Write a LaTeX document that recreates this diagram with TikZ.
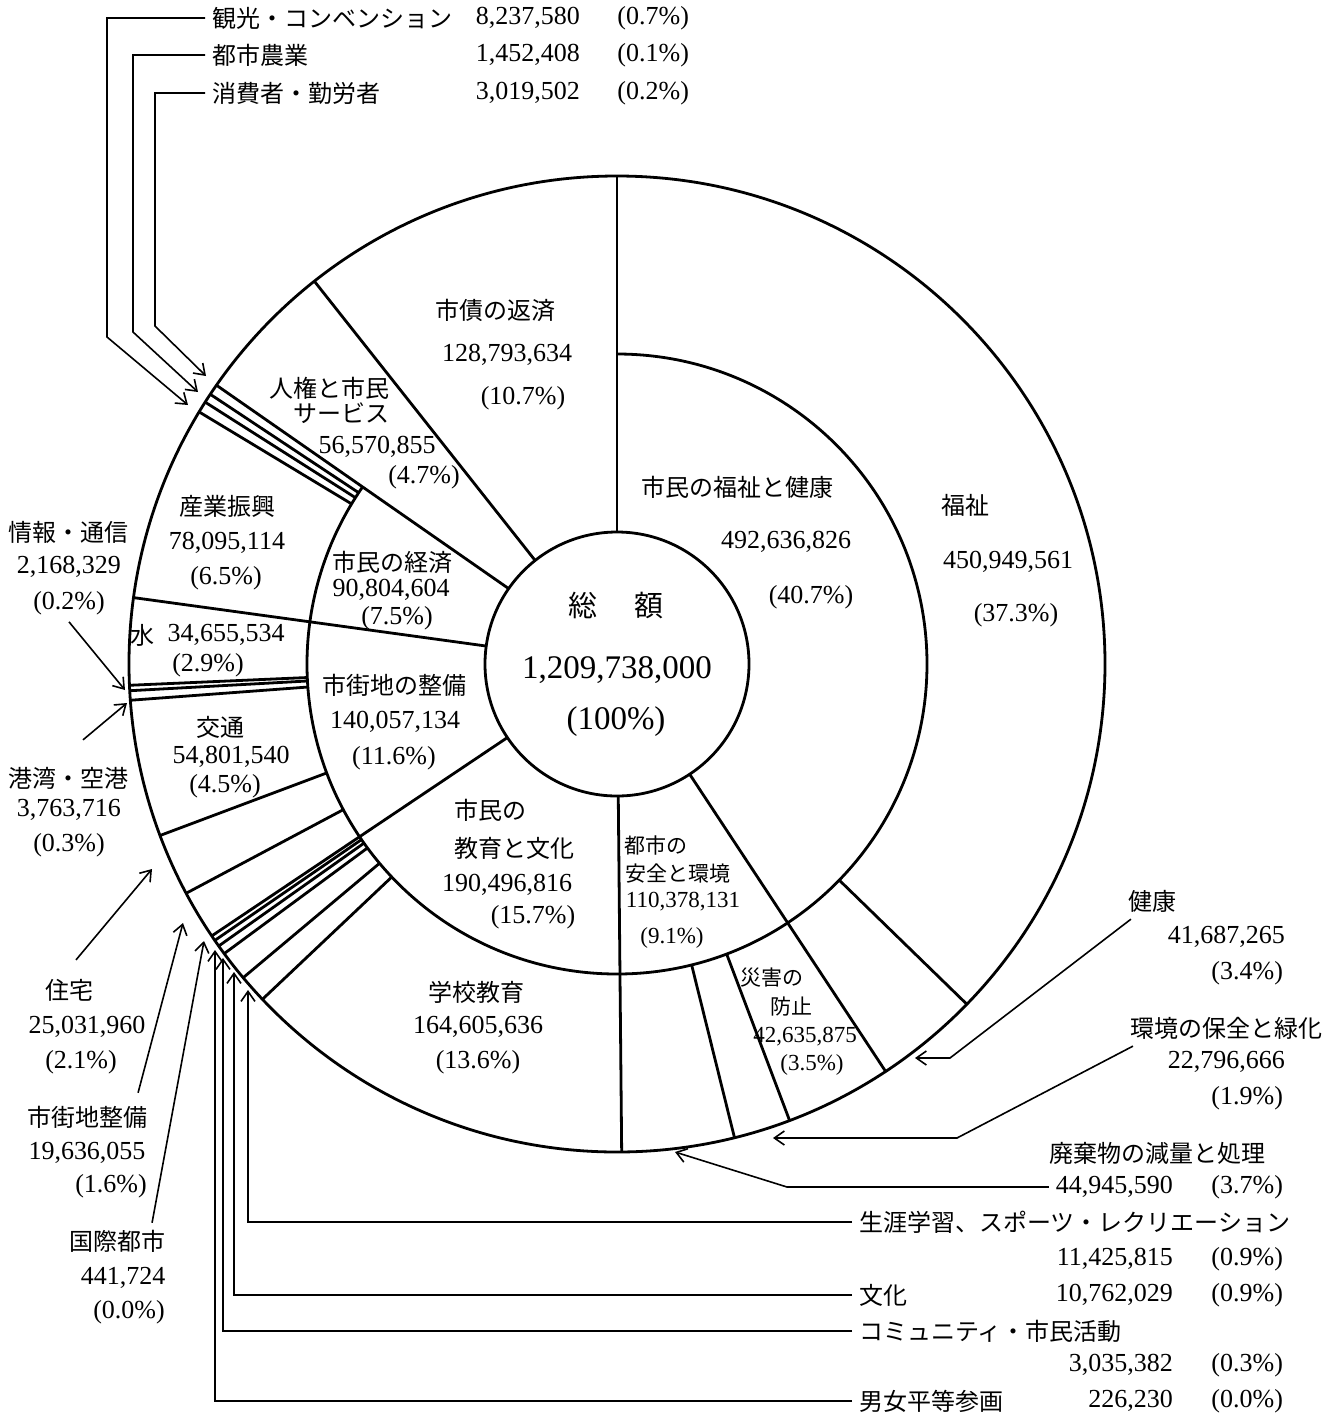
\documentclass[tikz,border=0pt]{standalone}
\usepackage{fontspec}
\setmainfont{Liberation Serif}
\newfontfamily\jpfont{Noto Sans CJK JP}
\usetikzlibrary{arrows.meta}

\begin{document}
\begin{tikzpicture}[x=0.5pt,y=-0.5pt,
  ring/.style={line width=1.4pt},
  conn/.style={line width=0.8pt,-{Straight Barb[length=5pt,width=7pt]}},
  jp/.style={font=\jpfont\fontsize{12}{14}\selectfont},
  jps/.style={font=\jpfont\fontsize{10.5}{12}\selectfont},
  num/.style={font=\fontsize{13}{15}\selectfont},
  nums/.style={font=\fontsize{11.5}{13}\selectfont}]
\useasboundingbox (0,0) rectangle (1332,1415);
\def\centre{(617,664)}

% inner and outer circles
\draw[ring] \centre circle[radius=132] \centre circle[radius=488];

\begin{scope}[shift={(617,664)}] % angles clockwise from the top
% middle circle, open over the last two parts
\draw[ring] (-90:310) arc[start angle=-90, end angle=214.84, radius=310];
\foreach \a in {0,146.6,179.45,236.14,277.82,304.84,321.67}
  \draw[ring] (\a-90:132) -- (\a-90:488);
\foreach \a in {134.2,159.29,166.07,226.6,230,233.6,234.7,235.5,241.98,249.43,265.74,266.86,267.5,301.1,302.45,303.55}
  \draw[ring] (\a-90:310) -- (\a-90:488);
\end{scope}

% total
\node[font=\jpfont\fontsize{14.5}{16}\selectfont] (total1) at (616,605) {総\hspace{1.3em}額};
\node[font=\fontsize{16.5}{18}\selectfont] (total2) at (617,670) {1,209,738,000};
\node[font=\fontsize{16.5}{18}\selectfont] (total3) at (616,722) {(100\%)};

% labels inside the rings
\foreach \n/\x/\y/\t in {saisai1/495/310/市債の返済, jinken1/329/388/人権と市民,
    jinken2/341/413/サービス, keizai1/392/562/市民の経済, seibi1/394/685/市街地の整備,
    kyoiku1/490/810/市民の, kyoiku2/514/848/教育と文化, fukushi1/737/487/市民の福祉と健康,
    fuku1/965/505/福祉, sangyo1/227/506/産業振興, mizu1/142/635/水, kotsu1/220/727/交通,
    gakko1/476/992/学校教育}
  \node[jp] (\n) at (\x,\y) {\t};
\foreach \n/\x/\y/\t in {saisai2/507/355/{128,793,634}, saisai3/523/398/(10.7\%),
    jinken3/377/447/{56,570,855}, jinken4/424/477/(4.7\%),
    keizai2/391/590/{90,804,604}, keizai3/397/618/(7.5\%),
    seibi2/395/722/{140,057,134}, seibi3/394/758/(11.6\%),
    kyoiku3/507/885/{190,496,816}, kyoiku4/533/917/(15.7\%),
    fukushi2/786/542/{492,636,826}, fukushi3/811/597/(40.7\%),
    fuku2/1008/562/{450,949,561}, fuku3/1016/615/(37.3\%),
    sangyo2/227/543/{78,095,114}, sangyo3/226/578/(6.5\%),
    mizu2/226/635/{34,655,534}, mizu3/208/665/(2.9\%),
    kotsu2/231/757/{54,801,540}, kotsu3/225/786/(4.5\%),
    gakko2/478/1027/{164,605,636}, gakko3/478/1062/(13.6\%)}
  \node[num] (\n) at (\x,\y) {\t};
\foreach \n/\x/\y/\t in {anzen1/656/845/都市の, anzen2/678/874/安全と環境,
    saigai1/772/978/災害の, saigai2/791/1007/防止}
  \node[jps] (\n) at (\x,\y) {\t};
\foreach \n/\x/\y/\t in {anzen3/683/902/{110,378,131}, anzen4/672/938/(9.1\%),
    saigai3/805/1037/{42,635,875}, saigai4/812/1065/(3.5\%)}
  \node[nums] (\n) at (\x,\y) {\t};

% labels at the top
\node[jp,anchor=west] (kanko1) at (205,18) {観光・コンベンション};
\node[num,anchor=east] (kanko2) at (587,18) {8,237,580};
\node[num,anchor=east] (kanko3) at (696,18) {(0.7\%)};
\node[jp,anchor=west] (nogyo1) at (205,55) {都市農業};
\node[num,anchor=east] (nogyo2) at (587,55) {1,452,408};
\node[num,anchor=east] (nogyo3) at (696,55) {(0.1\%)};
\node[jp,anchor=west] (shohi1) at (205,93) {消費者・勤労者};
\node[num,anchor=east] (shohi2) at (587,93) {3,019,502};
\node[num,anchor=east] (shohi3) at (696,93) {(0.2\%)};

% labels on the left
\node[jp] (joho1) at (69,532) {情報・通信};
\node[num] (joho2) at (69,567) {2,168,329};
\node[num] (joho3) at (69,603) {(0.2\%)};
\node[jp] (kowan1) at (69,778) {港湾・空港};
\node[num] (kowan2) at (69,810) {3,763,716};
\node[num] (kowan3) at (69,845) {(0.3\%)};
\node[jp] (jutaku1) at (70,990) {住宅};
\node[num] (jutaku2) at (87,1027) {25,031,960};
\node[num] (jutaku3) at (81,1062) {(2.1\%)};
\node[jp] (shigai1) at (87,1117) {市街地整備};
\node[num] (shigai2) at (87,1153) {19,636,055};
\node[num] (shigai3) at (111,1186) {(1.6\%)};
\node[jp] (kokusai1) at (117,1241) {国際都市};
\node[num] (kokusai2) at (123,1278) {441,724};
\node[num] (kokusai3) at (129,1312) {(0.0\%)};

% labels on the right
\node[jp] (kenko1) at (1152,901) {健康};
\node[num,anchor=east] (kenko2) at (1292,937) {41,687,265};
\node[num,anchor=east] (kenko3) at (1290,973) {(3.4\%)};
\node[jp] (kankyo1) at (1226,1028) {環境の保全と緑化};
\node[num,anchor=east] (kankyo2) at (1292,1062) {22,796,666};
\node[num,anchor=east] (kankyo3) at (1290,1098) {(1.9\%)};
\node[jp] (haiki1) at (1157,1153) {廃棄物の減量と処理};
\node[num,anchor=east] (haiki2) at (1180,1187) {44,945,590};
\node[num,anchor=east] (haiki3) at (1290,1187) {(3.7\%)};
\node[jp,anchor=west] (shogai1) at (852,1222) {生涯学習、スポーツ・レクリエーション};
\node[num,anchor=east] (shogai2) at (1180,1259) {11,425,815};
\node[num,anchor=east] (shogai3) at (1290,1259) {(0.9\%)};
\node[jp,anchor=west] (bunka1) at (852,1295) {文化};
\node[num,anchor=east] (bunka2) at (1180,1295) {10,762,029};
\node[num,anchor=east] (bunka3) at (1290,1295) {(0.9\%)};
\node[jp,anchor=west] (commu1) at (852,1331) {コミュニティ・市民活動};
\node[num,anchor=east] (commu2) at (1180,1365) {3,035,382};
\node[num,anchor=east] (commu3) at (1290,1365) {(0.3\%)};
\node[jp,anchor=west] (danjo1) at (852,1401) {男女平等参画};
\node[num,anchor=east] (danjo2) at (1180,1401) {226,230};
\node[num,anchor=east] (danjo3) at (1290,1401) {(0.0\%)};

% arrow tips at the outer circle
\coordinate (kanko tip) at (188,405);
\coordinate (nogyo tip) at (198,392);
\coordinate (shohi tip) at (206,376);
\coordinate (joho tip) at (125,690);
\coordinate (kowan tip) at (127,703);
\coordinate (jutaku tip) at (152,869);
\coordinate (shigai tip) at (183,923);
\coordinate (kokusai tip) at (204,941);
\coordinate (danjo tip) at (215,950);
\coordinate (commu tip) at (223,958);
\coordinate (bunka tip) at (234,972);
\coordinate (shogai tip) at (248,990);
\coordinate (haiki tip) at (675,1152);
\coordinate (kankyo tip) at (773,1138);
\coordinate (kenko tip) at (915,1058);

% connectors
\draw[conn] (kanko1.west) -| (107,337) -- (kanko tip);
\draw[conn] (nogyo1.west) -| (133,332) -- (nogyo tip);
\draw[conn] (shohi1.west) -| (155,326) -- (shohi tip);
\draw[conn] (joho3.south) -- (joho tip);
\draw[conn] ([xshift=7pt,yshift=10pt]kowan1.north) -- (kowan tip);
\draw[conn] ([xshift=3pt,yshift=6pt]jutaku1.north) -- (jutaku tip);
\draw[conn] ([xshift=-8pt,yshift=3pt]shigai1.north east) -- (shigai tip);
\draw[conn] ([xshift=-10pt]kokusai1.north east) -- (kokusai tip);
\draw[conn] (shogai1.west) -| (shogai tip);
\draw[conn] (bunka1.west) -| (bunka tip);
\draw[conn] (commu1.west) -| (commu tip);
\draw[conn] (danjo1.west) -| (danjo tip);
\draw[conn] (haiki2.west) -- (787,1187) -- (haiki tip);
\draw[conn] ([xshift=5pt]kankyo1.south west) -- (957,1138) -- (kankyo tip);
\draw[conn] ([xshift=5pt]kenko1.south west) -- (950,1058) -- (kenko tip);
\end{tikzpicture}
\end{document}
